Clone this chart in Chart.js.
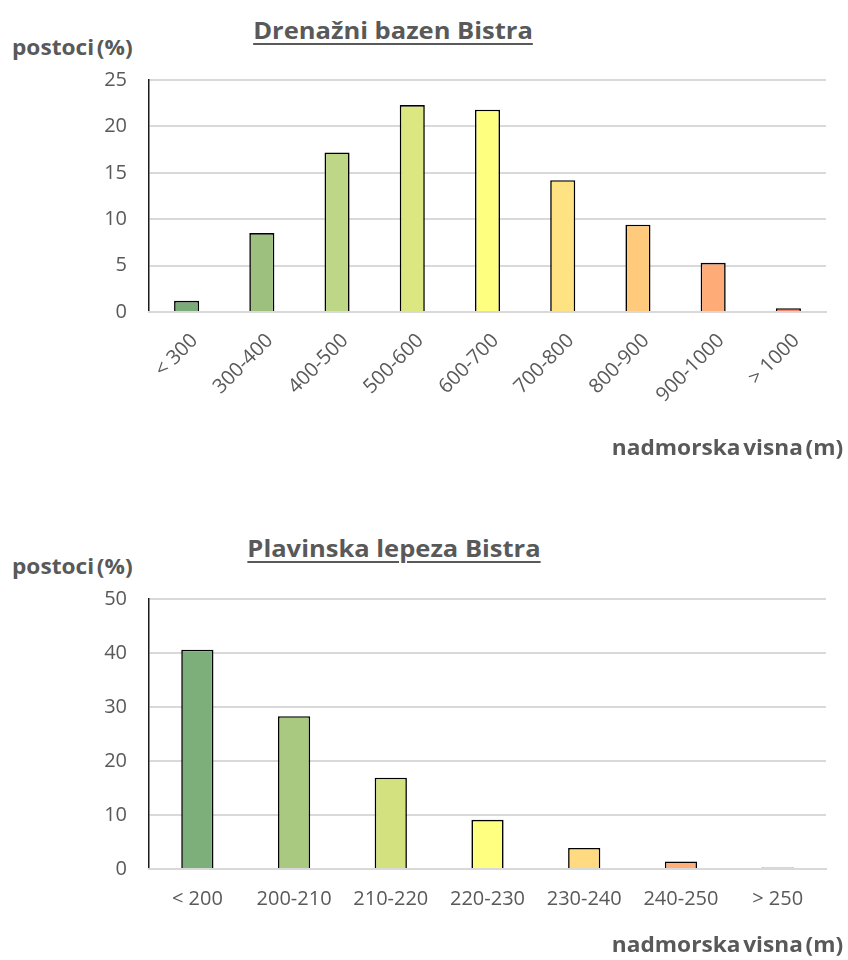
<!DOCTYPE html>
<html>
<head>
<meta charset="utf-8">
<script src="https://cdn.jsdelivr.net/npm/chart.js@4.4.1/dist/chart.umd.min.js"></script>
<style>
  html, body { margin:0; padding:0; background:#fff; }
  body { width:848px; height:960px; position:relative; overflow:hidden; font-family:'Open Sans', sans-serif; color:#595959; }
  .box { position:absolute; left:0; width:848px; }
  .txt { position:absolute; white-space:nowrap; line-height:1; font-weight:bold; color:#595959; }
  .title { font-size:23px; text-decoration:underline; text-decoration-thickness:2px; text-underline-offset:4px; transform-origin:center; }
  .ylab { font-size:21px; word-spacing:-3px; transform-origin:left center; transform:scaleX(1.08); }
  .xlab { font-size:21px; word-spacing:-3px; transform-origin:right center; transform:scaleX(1.08); }
</style>
</head>
<body>
<div class="txt title" style="left:393px; top:19px; transform:translateX(-50%) scaleX(1.11);">Drenažni bazen Bistra</div>
<div class="txt ylab" style="left:12px; top:37px;">postoci (%)</div>
<div class="box" style="top:0; height:480px;"><canvas id="c1" width="848" height="480"></canvas></div>
<div class="txt xlab" style="right:5px; top:437px;">nadmorska visna (m)</div>

<div class="txt title" style="left:394px; top:537px; transform:translateX(-50%) scaleX(1.11);">Plavinska lepeza Bistra</div>
<div class="txt ylab" style="left:12px; top:556px;">postoci (%)</div>
<div class="box" style="top:519px; height:441px;"><canvas id="c2" width="848" height="441"></canvas></div>
<div class="txt xlab" style="right:5px; top:934px;">nadmorska visna (m)</div>

<script>
// ---- Data: Drenažni bazen Bistra ----
const basinCategories = ['< 300', '300-400', '400-500', '500-600', '600-700', '700-800', '800-900', '900-1000', '> 1000'];
const basinValues = [1.2, 8.5, 17.2, 22.3, 21.8, 14.2, 9.4, 5.3, 0.4];
const basinColors = ['#7aab78', '#9dc07f', '#bdd786', '#dde782', '#ffff7f', '#ffe382', '#ffca7c', '#ffab78', '#f5836b'];
const basinTicks = [0, 5, 10, 15, 20, 25];

// ---- Data: Plavinska lepeza Bistra ----
const fanCategories = ['< 200', '200-210', '210-220', '220-230', '230-240', '240-250', '> 250'];
const fanValues = [40.6, 28.3, 16.9, 9.1, 3.9, 1.4, 0.3];
const fanColors = ['#7daf7b', '#a8c97f', '#d3e17e', '#ffff80', '#ffda80', '#ffb07a', '#f8836b'];
const fanTicks = [0, 10, 20, 30, 40, 50];

const TXT = '#595959';
const GRID = '#d9d9d9';

function makeChart(id, cats, vals, colors, ticks, rotated, xHeight) {
  const ctx = document.getElementById(id).getContext('2d');
  return new Chart(ctx, {
    type: 'bar',
    data: {
      labels: cats,
      datasets: [{
        data: vals,
        backgroundColor: colors,
        borderColor: '#000000',
        borderWidth: 1.6,
        borderSkipped: 'start',
        categoryPercentage: 1,
        barPercentage: 1/3
      }]
    },
    options: {
      responsive: false,
      animation: false,
      devicePixelRatio: 1,
      layout: { padding: { left: 0, right: 22, top: 80, bottom: 0 } },
      plugins: { legend: { display: false }, tooltip: { enabled: false }, title: { display: false } },
      scales: {
        x: {
          grid: { display: false, drawTicks: false },
          border: { display: true, color: GRID, width: 2, z: 1 },
          ticks: {
            color: TXT,
            font: { family: 'Open Sans', size: 20 },
            autoSkip: false,
            minRotation: rotated ? 45 : 0,
            maxRotation: rotated ? 45 : 0,
            padding: rotated ? 17 : 18,
            labelOffset: rotated ? 8 : 0
          },
          afterFit: (s) => { s.height = xHeight; }
        },
        y: {
          min: ticks[0],
          max: ticks[ticks.length - 1],
          afterBuildTicks: (s) => { s.ticks = ticks.map(v => ({ value: v })); },
          grid: { color: GRID, lineWidth: 2, drawTicks: false },
          border: { display: true, color: '#1a1a1a', width: 1.5 },
          ticks: {
            color: TXT,
            font: { family: 'Open Sans', size: 20 },
            padding: 22
          },
          afterFit: (s) => { s.width = 149; }
        }
      }
    }
  });
}

makeChart('c1', basinCategories, basinValues, basinColors, basinTicks, true, 168);
makeChart('c2', fanCategories, fanValues, fanColors, fanTicks, false, 91);
</script>
</body>
</html>
